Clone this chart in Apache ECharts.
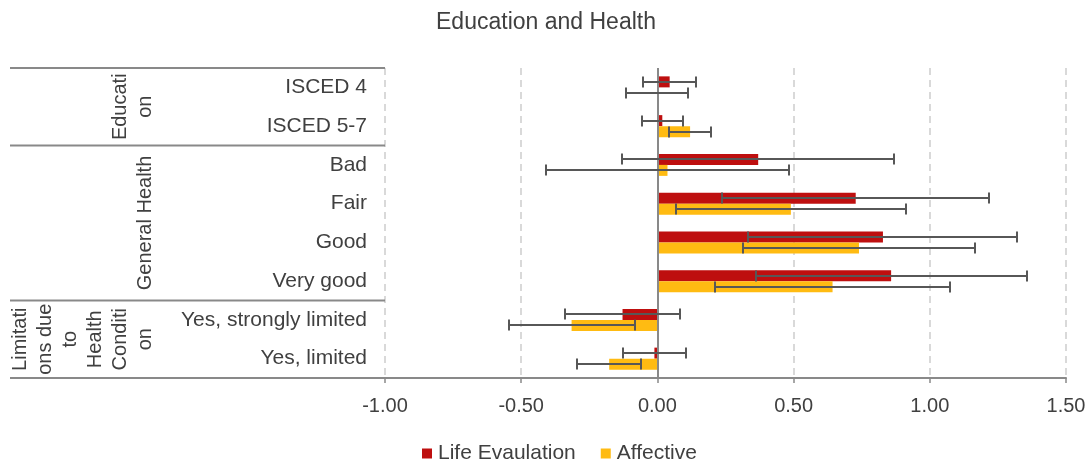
<!DOCTYPE html>
<html>
<head>
<meta charset="utf-8">
<script src="https://cdn.jsdelivr.net/npm/echarts@6/dist/echarts.min.js"></script>
<style>
html,body{margin:0;padding:0;background:#fff;}
#chart{width:1092px;height:466px;}
</style>
</head>
<body>
<div id="chart"></div>
<script>
// ---- data ----
const categories = ['ISCED 4', 'ISCED 5-7', 'Bad', 'Fair', 'Good', 'Very good', 'Yes, strongly limited', 'Yes, limited'];
const lifeEvaluation = [0.045, 0.018, 0.37, 0.728, 0.828, 0.858, -0.128, -0.011];
const lifeLow  = [-0.052, -0.057, -0.131, 0.237, 0.333, 0.361, -0.339, -0.127];
const lifeHigh = [0.143, 0.094, 0.870, 1.218, 1.321, 1.355, 0.083, 0.105];
const affective = [0.0, 0.12, 0.037, 0.49, 0.74, 0.643, -0.315, -0.177];
const affLow  = [-0.116, 0.043, -0.408, 0.067, 0.316, 0.213, -0.546, -0.296];
const affHigh = [0.113, 0.196, 0.482, 0.913, 1.166, 1.074, -0.084, -0.059];
const groupLabels = ['Educati\non', 'General Health', 'Limitati\nons due\nto\nHealth\nConditi\non'];
const groupFirst = [0, 2, 6];
const groupLast  = [1, 5, 7];
const seriesNames = ['Life Evaulation', 'Affective'];

const RED = '#BE0F0F', YEL = '#FFBB12';
const TXT = '#404040';
const FONT = 'Liberation Sans, Arial, sans-serif';
const BAR_W = 11;

const chart = echarts.init(document.getElementById('chart'));

function errData(low, high) {
  return categories.map((c, i) => [i, low[i], high[i]]);
}
function errRender(offset) {
  return function (params, api) {
    const ci = api.value(0);
    const p1 = api.coord([api.value(1), ci]);
    const p2 = api.coord([api.value(2), ci]);
    const y = Math.round(p1[1] + offset);
    const xa = Math.round(p1[0]), xb = Math.round(p2[0]);
    const h = 5.5;
    const st = { stroke: '#575757', lineWidth: 2 };
    return {
      type: 'group',
      children: [
        { type: 'line', shape: { x1: xa, y1: y, x2: xb, y2: y }, style: st },
        { type: 'line', shape: { x1: xa, y1: y - h, x2: xa, y2: y + h }, style: st },
        { type: 'line', shape: { x1: xb, y1: y - h, x2: xb, y2: y + h }, style: st }
      ]
    };
  };
}

const option = {
  animation: false,
  backgroundColor: '#fff',
  title: {
    text: 'Education and Health',
    left: 'center',
    top: 6,
    textStyle: { fontFamily: FONT, fontSize: 23, fontWeight: 'normal', color: TXT }
  },
  legend: {
    data: seriesNames,
    left: 422,
    top: 443,
    padding: 0,
    itemWidth: 10,
    itemHeight: 10,
    itemGap: 25,
    icon: 'rect',
    textStyle: { fontFamily: FONT, fontSize: 21, color: TXT, padding: [0, 0, 0, 1] }
  },
  grid: { left: 385, right: 26, top: 68, bottom: 88, containLabel: false },
  xAxis: {
    type: 'value',
    min: -1, max: 1.5, interval: 0.5,
    axisLine: { show: true, onZero: false, lineStyle: { color: '#898989', width: 2 } },
    axisTick: { show: true, length: 5, lineStyle: { color: '#898989', width: 1.5 } },
    axisLabel: { formatter: v => v.toFixed(2), fontFamily: FONT, fontSize: 20, color: TXT, margin: 18 },
    splitLine: { show: true, lineStyle: { color: '#d9d9d9', width: 2, type: [7, 5] } }
  },
  yAxis: {
    type: 'category',
    data: categories,
    inverse: true,
    axisLine: { show: false },
    axisTick: { show: false },
    axisLabel: { fontFamily: FONT, fontSize: 21, color: TXT, margin: 18 }
  },
  series: [
    {
      name: seriesNames[0], type: 'bar', data: lifeEvaluation,
      barWidth: BAR_W, barGap: '0%', itemStyle: { color: RED }, z: 2,
      markLine: {
        silent: true, symbol: 'none', label: { show: false },
        lineStyle: { color: '#898989', width: 2, type: 'solid' },
        data: [{ xAxis: 0 }]
      }
    },
    {
      name: seriesNames[1], type: 'bar', data: affective,
      barWidth: BAR_W, barGap: '0%', itemStyle: { color: YEL }, z: 2
    },
    {
      name: 'lifeErr', type: 'custom', data: errData(lifeLow, lifeHigh),
      encode: { x: [1, 2], y: 0 }, renderItem: errRender(-BAR_W / 2), z: 5, silent: true
    },
    {
      name: 'affErr', type: 'custom', data: errData(affLow, affHigh),
      encode: { x: [1, 2], y: 0 }, renderItem: errRender(BAR_W / 2), z: 5, silent: true
    }
  ]
};
chart.setOption(option);

// group table (multi-level category labels) positioned from the category axis
function drawGroups() {
  const yOf = i => chart.convertToPixel({ yAxisIndex: 0 }, i);
  const band = yOf(1) - yOf(0);
  const gridLeft = chart.convertToPixel({ xAxisIndex: 0 }, -1);
  const left = 10;
  const els = [];
  const lineStyle = { stroke: '#898989', lineWidth: 2 };
  const topY = yOf(0) - band / 2;
  els.push({ type: 'line', shape: { x1: left, y1: topY, x2: gridLeft, y2: topY }, style: lineStyle, silent: true });
  groupLabels.forEach((lbl, g) => {
    const y0 = yOf(groupFirst[g]) - band / 2;
    const y1 = yOf(groupLast[g]) + band / 2;
    els.push({ type: 'line', shape: { x1: left, y1: y1, x2: gridLeft, y2: y1 }, style: lineStyle, silent: true });
    els.push({
      type: 'text', x: 158, y: (y0 + y1) / 2, rotation: Math.PI / 2, silent: true,
      style: {
        text: lbl, fontFamily: FONT, fontSize: 20, fill: TXT, lineHeight: 25,
        align: 'center', verticalAlign: 'bottom'
      }
    });
  });
  chart.setOption({ graphic: els });
}
drawGroups();
</script>
</body>
</html>
